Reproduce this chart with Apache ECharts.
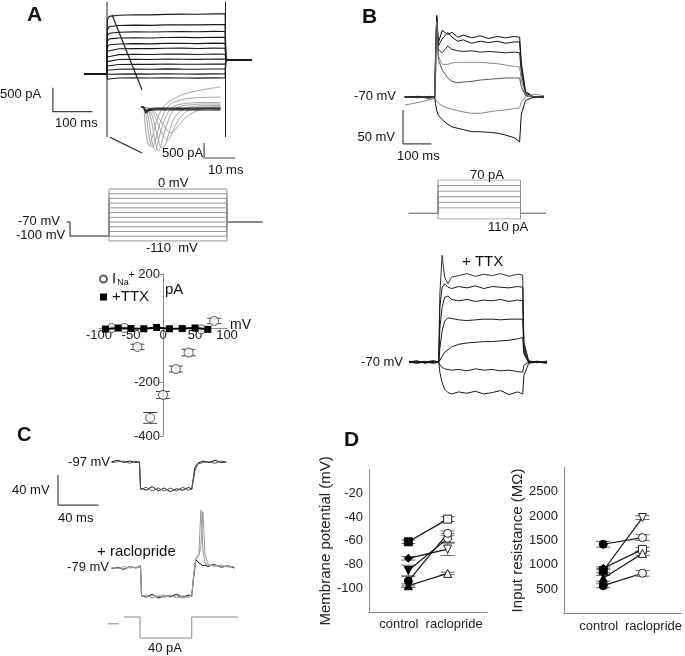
<!DOCTYPE html>
<html><head><meta charset="utf-8">
<script src="https://cdn.jsdelivr.net/npm/echarts@6/dist/echarts.min.js"></script>
<style>html,body{margin:0;padding:0;background:#fff}#c{width:685px;height:656px}</style>
</head><body><div id="c"></div>
<script>
// ===== Panel A: whole-cell currents (time ms, current pA) =====
const tA = [-58, -1, 1, 6, 30, 70, 110, 150, 190, 230, 270, 299, 301, 320, 345, 366];
const curA = [
 [3,-2,1150,1215,1238,1250,1246,1257,1262,1259,1268,1271,290,298,284,292],
 [-3,2,940,1000,1022,1030,1026,1035,1038,1036,1041,1042,292,286,295,289],
 [2,-3,800,860,880,888,884,892,895,890,898,896,288,294,290,286],
 [-2,3,690,740,758,765,760,768,772,766,774,771,295,289,293,291],
 [3,0,570,615,632,640,636,645,648,641,650,646,287,293,288,294],
 [-3,1,480,515,532,538,534,544,546,538,545,542,291,286,296,288],
 [2,-2,360,395,408,414,410,420,418,412,421,417,293,290,287,292],
 [-2,2,260,292,304,310,305,316,312,308,316,313,286,295,291,289],
 [3,-1,170,192,200,206,202,212,207,204,211,208,294,288,292,290],
 [-3,2,80,96,100,104,100,108,103,101,106,104,289,292,287,293],
 [2,-2,-20,-6,-2,3,-3,4,-1,-3,2,0,293,287,294,288],
 [-2,3,-110,-92,-86,-82,-86,-80,-85,-88,-81,-83,288,294,289,291]
];
const transientT = [0, 300];          // ms
const transientRange = [1520, -1330]; // pA (clipped)
const zoomLinkTop = [[12.7, 1250], [88.6, -333]];
const zoomLinkBottom = [[7.6, -1333], [88.6, -1667]];
const scaleA = [[-137, -292], [-137, -792], [-37, -792]]; // 500 pA / 100 ms

// ===== Panel A inset: Na currents (ms, pA) =====
const tI = [-0.5, 0, 1, 2, 3, 4, 5, 6, 7, 8, 9, 10, 12, 15, 20, 25];
const naGray = [
 [0,0,-900,-1300,-1000,-600,-300,-100,50,150,220,280,380,480,590,667],
 [0,0,-300,-1000,-1350,-1100,-700,-400,-150,0,100,160,230,290,320,333],
 [0,0,-100,-500,-1200,-1430,-1100,-700,-400,-200,-50,30,90,130,150,150],
 [0,0,-50,-200,-600,-1200,-1460,-1200,-800,-500,-250,-100,20,70,100,100],
 [0,0,-30,-100,-300,-700,-1100,-1350,-1300,-1000,-650,-400,-150,0,40,50],
 [0,0,-20,-60,-150,-350,-600,-850,-1050,-1100,-950,-700,-350,-100,0,0],
 [0,0,-10,-40,-100,-200,-350,-500,-650,-800,-860,-800,-550,-250,-50,0]
];
const naBlack = [
 [0,0,-150,-90,-70,-65,-60,-62,-60,-58,-61,-60,-62,-59,-60,-61],
 [0,0,-200,-120,-100,-95,-98,-94,-96,-99,-95,-97,-94,-96,-98,-95],
 [0,0,-120,-60,-40,-35,-38,-34,-37,-33,-36,-35,-38,-34,-36,-35]
];
const scaleInset = [[19.7, -1200], [19.7, -1700], [29.7, -1700]]; // 500 pA / 10 ms

// ===== Panel A voltage protocol (ms, mV) =====
const protoLevelsA = [0,-10,-20,-30,-40,-50,-60,-70,-80,-90,-100,-110];
const protoTimesA = [-106, -99, 0, 300, 390];
const holdA = [-70, -100, -70];

// ===== Panel A I-V relation (mV, pA) =====
const ivV = [80, 60, 40, 20, 0, -20, -40, -60, -80];
const ivINa = [26, -5, -91, -152, -248, -333, -70, 0, 0];
const ivINaErr = [10, 8, 12, 11, 13, 20, 10, 5, 5];
const ivTTXv = [-90, -70, -50, -30, -10, 10, 30, 50, 70];
const ivTTX = [-4, 0, -2, -3, 2, -3, -2, 0, -5];

// ===== Panel B: voltage responses (ms, mV) =====
const tB = [-107,-60,-20,-1,2,6,12,25,45,60,80,100,130,160,190,220,250,280,299,305,320,350,385];
const vB = [
 [-70,-69,-71,-70,0,50,10,28,22,25,18,21,17,20,16,19,17,19,18,-20,-62,-70,-69],
 [-70,-71,-69,-70,-10,48,5,15,25,18,12,14,9,12,10,12,9,11,11,-25,-64,-70,-71],
 [-70,-70,-72,-70,-20,45,0,-5,5,0,-2,-3,-2,-4,-3,-4,-5,-4,-5,-35,-66,-71,-70],
 [-70,-71,-70,-70,-30,40,-10,-22,-22,-20,-19,-19,-19,-19,-20,-21,-23,-25,-26,-45,-67,-70,-70],
 [-70,-70,-71,-70,-40,35,-15,-30,-42,-47,-49,-48,-47,-45,-44,-43,-42,-42,-42,-55,-68,-70,-71],
 [-82,-78,-74,-72,-74,-76,-79,-83,-86,-88,-90,-92,-94,-94,-92,-90,-89,-87,-86,-78,-70,-66,-68],
 [-70,-70,-70,-70,-80,-90,-97,-103,-110,-114,-116,-118,-121,-121,-122,-123,-126,-130,-136,-95,-75,-70,-70]
];
const colB = ['#111','#111','#222','#888','#555','#888','#111'];
const scaleB = [[-113, -89], [-113, -139], [-13, -139]]; // 50 mV / 100 ms
const protoCatsB = ['-110','0','20','30','40','50','60','70']; // pA steps (schematic)
const protoTimesB = [-106, 0, 300, 392];

// ===== Panel B + TTX (ms, mV) =====
const tT = [-107,-80,-50,-20,-1,3,11,20,32,45,70,100,130,160,190,220,250,280,299,303,320,350,385];
const vT = [
 [-70,-68,-72,-69,-70,30,87,55,45,55,57,60,56,59,57,60,56,59,58,-40,-68,-71,-69],
 [-71,-69,-70,-72,-70,10,40,45,40,38,41,39,42,38,41,40,39,41,40,-45,-69,-70,-72],
 [-69,-71,-70,-68,-70,-20,10,25,27,22,20,22,19,21,20,22,19,21,20,-50,-70,-69,-70],
 [-70,-70,-71,-70,-70,-50,-25,-10,-5,-6,-8,-9,-8,-7,-7,-8,-7,-7,-7,-55,-71,-70,-69],
 [-71,-70,-69,-71,-70,-68,-62,-56,-52,-48,-44,-42,-41,-40,-40,-39,-38,-36,-34,-58,-70,-71,-70],
 [-70,-72,-70,-69,-70,-74,-78,-80,-81,-82,-81,-83,-80,-82,-81,-83,-82,-84,-85,-75,-70,-69,-71],
 [-69,-70,-71,-70,-70,-85,-100,-110,-115,-117,-114,-116,-113,-117,-115,-112,-118,-114,-117,-90,-72,-70,-70]
];

// ===== Panel C (ms, mV) =====
const tC1 = [-28,-22,-16,-10,-4,-0.5,0.5,6,12,18,24,30,36,42,48,51,54,57,62,68,74,80,85];
const vC1 = [
 [-97,-95,-98,-96,-98,-97,-132,-135,-130,-136,-132,-137,-133,-135,-131,-134,-105,-99,-96,-98,-95,-98,-97],
 [-98,-97,-96,-99,-96,-98,-134,-131,-136,-132,-136,-132,-136,-131,-135,-133,-110,-100,-98,-97,-99,-96,-98]
];
const tC2 = [-28,-22,-16,-10,-4,0.5,1.5,6,12,18,24,30,36,42,48,51,53,55,58,60,62,64,67,73,80,87,93];
const vC2 = [
 [-80,-78,-81,-77,-79,-76,-115,-118,-114,-119,-116,-117,-114,-118,-115,-116,-90,-68,-72,-74,-76,-75,-77,-74,-78,-76,-79],
 [-79,-80,-77,-79,-78,-77,-117,-115,-119,-116,-118,-115,-119,-116,-118,-117,-88,-66,-60,-2,-55,-72,-76,-75,-77,-76,-78],
 [-78,-79,-80,-77,-79,-78,-116,-118,-116,-117,-115,-118,-116,-119,-117,-115,-86,-67,-62,-50,-4,-60,-74,-77,-75,-78,-77]
];
const colC2 = ['#111', '#999', '#999'];
const scaleC = [[-80.8, -114.7], [-80.8, -154.7], [-40.8, -154.7]]; // 40 mV / 40 ms
const tCP = [-16, 0, 0, 51, 51, 97];
const iCP = [0, 0, -40, -40, 0, 0];
const stubCP = [[-31.5, -13], [-20.7, -13]];

// ===== Panel D =====
const condCats = ['', 'control', 'raclopride', ''];
const mpCtrl = [-60.8, -74.7, -85, -93.9, -97.8];
const mpCtrlErr = [1.5, 1.5, 4.5, 4, 1.5];
const mpRac = [-41.7, -66.9, -57.9, -53.7, -87.4];
const mpRacErr = [2, 5.5, 4, 2, 1];
const mpCtrlSym = ['rect','diamond','triangleDown','circle','triangle'];
const mpRacSym = ['rect','triangleDown','circle','circle','triangle'];
const mpStarY = [-41.7, -53.7, -57.9, -66.9, -87.4];
const mpStars = ['**','**','**','**','**'];
const irCtrl = [1423, 880, 930, 725, 574];
const irCtrlErr = [60, 40, 30, 60, 40];
const irRac = [1560, 1970, 1318, 1236, 828];
const irRacErr = [60, 40, 40, 40, 60];
const irCtrlSym = ['circle','rect','diamond','triangle','circle'];
const irRacSym = ['circle','triangleDown','rect','triangle','circle'];
const irStarY = [1970, 1600, 1315, 1240, 828];
const irStars = ['**','*','**','**','*'];

// ================= build =================
const FONT = '"Liberation Sans", Arial, Helvetica, sans-serif';
const G = [], XA = [], YA = [], S = [];
function addGrid(x0, y0, sx, sy, xmin, xmax, ymin, ymax, xe, ye) {
  const i = G.length;
  G.push({left: x0 + xmin*sx, top: y0 - ymax*sy, width: (xmax-xmin)*sx, height: (ymax-ymin)*sy});
  XA.push(Object.assign({type:'value', gridIndex:i, min:xmin, max:xmax, show:false, splitLine:{show:false}}, xe||{}));
  YA.push(Object.assign({type:'value', gridIndex:i, min:ymin, max:ymax, show:false, splitLine:{show:false}}, ye||{}));
  return i;
}
function line(gi, data, color, width, extra) {
  S.push(Object.assign({type:'line', xAxisIndex:gi, yAxisIndex:gi, data, symbol:'none', silent:true,
    animation:false, lineStyle:{color, width}}, extra||{}));
}
const zip = (t, v) => t.map((x, i) => [x, v[i]]);
const SYM = s => s === 'triangleDown' ? 'triangle' : s;
const ROT = s => s === 'triangleDown' ? 180 : 0;

// A currents
const gA = addGrid(107, 73, 0.395, 0.048, -140, 392, -1750, 1560);
curA.forEach(v => line(gA, zip(tA, v), '#1a1a1a', 1.1));
transientT.forEach(t => line(gA, [[t, transientRange[0]], [t, transientRange[1]]], '#222', 1));
line(gA, zoomLinkTop, '#222', 1.2);
line(gA, zoomLinkBottom, '#222', 1.2);
line(gA, scaleA, '#444', 1.2);

// A inset
const gI = addGrid(143, 107, 3.1, 0.03, -1, 31, -1750, 700);
naGray.forEach(v => line(gI, zip(tI, v), '#9a9a9a', 0.9, {smooth:0.4}));
naBlack.forEach(v => line(gI, zip(tI, v), '#222', 1.1, {smooth:0.4}));
line(gI, scaleInset, '#444', 1.2);

// A protocol
const gP = addGrid(109, 189, 0.393, 0.472, -110, 392, -115, 5);
protoLevelsA.forEach(L => line(gP, [[protoTimesA[0], holdA[0]], [protoTimesA[1], holdA[0]], [protoTimesA[1], holdA[1]],
  [protoTimesA[2], holdA[1]], [protoTimesA[2], L], [protoTimesA[3], L], [protoTimesA[3], holdA[2]], [protoTimesA[4], holdA[2]]], '#8a8a8a', 0.9));

// A I-V (axes crossing at zero)
const axC = '#8a8a8a';
const ivX0 = 163, ivY0 = 328, ivSx = 0.64, ivSy = 0.27;
const gIV = addGrid(ivX0, ivY0, ivSx, ivSy, -100, 100, -400, 200,
  {show:true, interval:50, position:'bottom', offset: -(400*ivSy), axisLine:{onZero:false, lineStyle:{color:axC}}, axisTick:{show:false},
   axisLabel:{fontSize:13, color:'#222', margin:1, fontFamily:FONT}},
  {show:true, interval:200, position:'left', offset: -(100*ivSx), axisLine:{onZero:false, lineStyle:{color:axC}},
   axisTick:{show:true, length:3, lineStyle:{color:axC}},
   axisLabel:{fontSize:13, color:'#222', margin:3, fontFamily:FONT, formatter: v => v === 0 ? '' : String(v)}});
function errRender(cap, color) {
  return function (params, api) {
    const x = api.value(0), y = api.value(1), e = api.value(2);
    const hi = api.coord([x, y + e]), lo = api.coord([x, y - e]);
    const st = {stroke: color, lineWidth: 1};
    return {type:'group', children:[
      {type:'line', shape:{x1:hi[0], y1:hi[1], x2:lo[0], y2:lo[1]}, style:st},
      {type:'line', shape:{x1:hi[0]-cap, y1:hi[1], x2:hi[0]+cap, y2:hi[1]}, style:st},
      {type:'line', shape:{x1:lo[0]-cap, y1:lo[1], x2:lo[0]+cap, y2:lo[1]}, style:st}
    ]};
  };
}
S.push({type:'custom', xAxisIndex:gIV, yAxisIndex:gIV, renderItem: errRender(7, '#444'), silent:true, animation:false,
  encode:{x:0, y:1}, data: ivV.map((v, i) => [v, ivINa[i], ivINaErr[i]])});
S.push({type:'scatter', name:'INa', xAxisIndex:gIV, yAxisIndex:gIV, data: zip(ivV, ivINa), symbol:'circle', symbolSize:9,
  itemStyle:{color:'#fff', borderColor:'#333', borderWidth:1}, silent:true, animation:false});
S.push({type:'line', name:'TTX', xAxisIndex:gIV, yAxisIndex:gIV, data: zip(ivTTXv, ivTTX), symbol:'rect', symbolSize:7,
  itemStyle:{color:'#000'}, lineStyle:{color:'#000', width:2}, silent:true, animation:false});

// B
const gB = addGrid(435, 49.4, 0.283, 0.68, -115, 390, -145, 56);
vB.forEach((v, i) => line(gB, zip(tB, v), colB[i], 1));
line(gB, scaleB, '#444', 1.2);

// B protocol (category y: schematic current steps)
const gBP = G.length;
G.push({left: 438 - 106*0.275, top: 180, width: (392+106)*0.275, height: 39});
XA.push({type:'value', gridIndex:gBP, min:-106, max:392, show:false, splitLine:{show:false}});
YA.push({type:'category', gridIndex:gBP, data:protoCatsB, boundaryGap:false, show:false});
protoCatsB.forEach((c, k) => { if (k === 1) return;
  line(gBP, [[protoTimesB[0], 1], [protoTimesB[1], 1], [protoTimesB[1], k], [protoTimesB[2], k], [protoTimesB[2], 1], [protoTimesB[3], 1]], '#8a8a8a', 0.9); });

// B TTX
const gT = addGrid(439, 314.4, 0.28, 0.68, -107, 392, -125, 92);
vT.forEach((v, i) => line(gT, zip(tT, v), i === 0 ? '#333' : '#1a1a1a', 1));

// C top (-97 mV)
const gC1 = addGrid(140, 389, 1.015, 0.75, -85, 100, -160, -85);
vC1.forEach((v, i) => line(gC1, zip(tC1, v), i ? '#555' : '#111', 1));
line(gC1, scaleC, '#444', 1.2);
// C raclopride (-79 mV)
const gC2 = addGrid(140, 508.75, 1.015, 0.75, -30, 100, -125, 5);
vC2.forEach((v, i) => line(gC2, zip(tC2, v), colC2[i], 1));
// C current protocol (pA)
const gCP = addGrid(140, 617, 1.015, 0.525, -35, 100, -45, 5);
line(gCP, zip(tCP, iCP), '#8a8a8a', 1);
line(gCP, stubCP, '#8a8a8a', 1);

// D : value x axis (hidden) for data, category x axis for labels
function dY(name, gap, interval) {
  return {show:true, interval, name, nameLocation:'middle', nameGap:gap, nameTextStyle:{fontSize:15, color:'#222', fontFamily:FONT},
    axisLine:{onZero:false, lineStyle:{color:axC}}, axisTick:{show:false},
    axisLabel:{fontSize:13, color:'#222', margin:6, fontFamily:FONT, showMinLabel:false, showMaxLabel:false, formatter: v => String(v)}};
}
const gDL = G.length;
G.push({left:369, top:469.6, width:118, height:142.5});
XA.push({type:'value', gridIndex:gDL, min:-1, max:2, show:false, position:'top', splitLine:{show:false}});
YA.push(Object.assign({type:'value', gridIndex:gDL, min:-120, max:0, splitLine:{show:false}}, dY('Membrane potential (mV)', 32, 20)));
const gDR = G.length;
G.push({left:564, top:467.3, width:121, height:146.4});
XA.push({type:'value', gridIndex:gDR, min:-1, max:2, show:false, position:'top', splitLine:{show:false}});
YA.push(Object.assign({type:'value', gridIndex:gDR, min:0, max:3000, splitLine:{show:false}}, dY('Input resistance (M\u03a9)', 38, 500)));

function pairPlot(gi, ctrl, cErr, rac, rErr, cSym, rSym, starY, stars, starX) {
  const err = [];
  ctrl.forEach((v, i) => { err.push([0, v, cErr[i]]); err.push([1, rac[i], rErr[i]]); });
  S.push({type:'custom', xAxisIndex:gi, yAxisIndex:gi, renderItem: errRender(7, '#666'), silent:true, animation:false,
    encode:{x:0, y:1}, data: err});
  ctrl.forEach((v, i) => {
    S.push({type:'line', xAxisIndex:gi, yAxisIndex:gi, silent:true, animation:false, lineStyle:{color:'#111', width:1.2},
      symbolSize:8, data:[
        {value:[0, v], symbol:SYM(cSym[i]), symbolRotate:ROT(cSym[i]), itemStyle:{color:'#000', borderColor:'#000'}},
        {value:[1, rac[i]], symbol:SYM(rSym[i]), symbolRotate:ROT(rSym[i]), itemStyle:{color:'#fff', borderColor:'#222', borderWidth:1}}
      ]});
  });
  S.push({type:'scatter', xAxisIndex:gi, yAxisIndex:gi, silent:true, animation:false, symbolSize:1, itemStyle:{opacity:0},
    data: starY.map((y, i) => ({value:[starX, y], label:{show:true, position:'inside', formatter:stars[i],
      fontSize:14, color:'#111', fontFamily:FONT}}))});
}
pairPlot(gDL, mpCtrl, mpCtrlErr, mpRac, mpRacErr, mpCtrlSym, mpRacSym, mpStarY, mpStars, 1.44);
pairPlot(gDR, irCtrl, irCtrlErr, irRac, irRacErr, irCtrlSym, irRacSym, irStarY, irStars, 1.53);
// category label axes for D (pushed last so other axis indices equal grid indices)
// label padding shifts: [control right-pad, raclopride left-pad] (px)
const dLabelPad = [[19, 13], [9, 22]];
[gDL, gDR].forEach((g, j) => XA.push({type:'category', gridIndex:g, data:condCats, boundaryGap:false, position:'bottom',
  axisLine:{onZero:false, lineStyle:{color:axC}}, axisTick:{show:false},
  axisLabel:{interval:0, fontSize:13, color:'#222', margin:6, fontFamily:FONT,
    formatter: v => v === 'control' ? '{c|control}' : (v === 'raclopride' ? '{r|raclopride}' : ''),
    rich:{c:{fontSize:13, color:'#222', fontFamily:FONT, padding:[0, dLabelPad[j][0], 0, 0]},
          r:{fontSize:13, color:'#222', fontFamily:FONT, padding:[0, 0, 0, dLabelPad[j][1]]}}}}));

// ---- text ----
function T(text, x, y, size, o) {
  o = o || {};
  const a = o.align || 'left';
  return {type:'text', x, y, silent:true, z:10, style:{text, font:(o.bold ? 'bold ' : '') + size + 'px ' + FONT,
    fill:'#111', align:a, textAlign:a, verticalAlign:'middle', textVerticalAlign:'middle'}};
}
const texts = [
  T('A', 27, 15, 21, {bold:true}),
  T('500 pA', 0, 94, 13), T('100 ms', 55, 123, 13),
  T('500 pA', 162, 153, 13), T('10 ms', 208, 170, 13),
  T('0 mV', 158, 183, 13), T('-70 mV', 18, 221, 13), T('-100 mV', 16, 235, 13), T('-110  mV', 146, 248, 13),
  T('pA', 165, 290, 15), T('mV', 230, 325, 14),
  T('B', 362, 17, 21, {bold:true}),
  T('-70 mV', 396, 96, 13, {align:'right'}), T('50 mV', 395, 137, 13, {align:'right'}), T('100 ms', 397, 156, 13),
  T('70 pA', 470, 175, 13), T('110 pA', 488, 227, 13),
  T('+ TTX', 462, 262, 15), T('-70 mV', 403, 362, 13, {align:'right'}),
  T('C', 17, 435, 20, {bold:true}),
  T('-97 mV', 110, 462, 13, {align:'right'}),
  T('40 mV', 12, 490, 13), T('40 ms', 58, 518, 13),
  T('+ raclopride', 97, 552, 15), T('-79 mV', 109, 567, 13, {align:'right'}), T('40 pA', 148, 648, 13),
  T('D', 344, 440, 21, {bold:true})
];

const chart = echarts.init(document.getElementById('c'), null, {renderer:'canvas'});
chart.setOption({
  animation:false,
  backgroundColor:'#fff',
  textStyle:{fontFamily:FONT},
  grid:G, xAxis:XA, yAxis:YA, series:S, graphic:texts,
  legend:{left:94, top:265, orient:'vertical', itemGap:2, itemWidth:7, itemHeight:7, selectedMode:false,
    data:[{name:'INa', icon:'circle'}, {name:'TTX', icon:'rect'}],
    formatter: n => n === 'INa' ? '{i|I}{s|Na}{p|+}' : '{i|+TTX}',
    textStyle:{fontSize:15, color:'#111', fontFamily:FONT, rich:{i:{fontSize:15}, s:{fontSize:9, padding:[8,0,0,1]}, p:{fontSize:10, padding:[0,0,8,0]}}}}
});
</script></body></html>
